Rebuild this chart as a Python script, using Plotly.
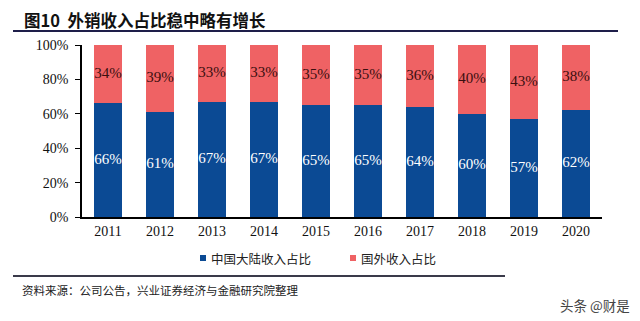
import plotly.graph_objects as go

years = ["2011", "2012", "2013", "2014", "2015", "2016", "2017", "2018", "2019", "2020"]
mainland = [66, 61, 67, 67, 65, 65, 64, 60, 57, 62]
overseas = [34, 39, 33, 33, 35, 35, 36, 40, 43, 38]
yticks = [0, 20, 40, 60, 80, 100]
ytick_labels = ["0%", "20%", "40%", "60%", "80%", "100%"]
series_names = ["中国大陆收入占比", "国外收入占比"]
colors = ["#0B4A94", "#EF6264"]

W, H = 640, 321
L, R, T, B = 82, 602, 45, 217
pw, ph = R - L, B - T

def px(x):
    return (x - L) / pw

def py(y):
    return (B - y) / ph

serif = "Liberation Serif, Times New Roman, serif"
cjk = "Noto Sans CJK SC"

fig = go.Figure()
fig.add_trace(go.Bar(
    x=years, y=mainland, name=series_names[0],
    marker=dict(color=colors[0], line=dict(width=0)), textposition="none",
))
fig.add_trace(go.Bar(
    x=years, y=overseas, name=series_names[1],
    marker=dict(color=colors[1], line=dict(width=0)), textposition="none",
))
# value labels centred in each segment
fig.add_trace(go.Scatter(
    x=years, y=[v / 2 for v in mainland], mode="text",
    text=[f"{v}%" for v in mainland], textposition="middle center",
    textfont=dict(family=serif, size=15, color="#ffffff"), hoverinfo="skip",
))
fig.add_trace(go.Scatter(
    x=years, y=[m + o / 2 for m, o in zip(mainland, overseas)], mode="text",
    text=[f"{v}%" for v in overseas], textposition="middle center",
    textfont=dict(family=serif, size=15, color="#3a0f0f"), hoverinfo="skip",
))

shapes = [
    dict(type="line", xref="paper", yref="paper", x0=px(13), x1=px(618), y0=py(31), y1=py(31),
         line=dict(color="#1e1e4a", width=2)),
    dict(type="line", xref="paper", yref="paper", x0=px(13), x1=px(505), y0=py(276), y1=py(276),
         line=dict(color="#3a3a4a", width=2)),
]
annotations = [
    dict(text="<b>图10  外销收入占比稳中略有增长</b>", xref="paper", yref="paper",
         x=px(22), y=py(20), xanchor="left", yanchor="middle", showarrow=False,
         font=dict(family=cjk, size=16.5, color="#111")),
    dict(text="资料来源：公司公告，兴业证券经济与金融研究院整理", xref="paper", yref="paper",
         x=px(20), y=py(290), xanchor="left", yanchor="middle", showarrow=False,
         font=dict(family=cjk, size=11.5, color="#222")),
    dict(text="头条 @财是", xref="paper", yref="paper",
         x=px(632), y=py(305), xanchor="right", yanchor="middle", showarrow=False,
         font=dict(family=cjk, size=13.5, color="#444")),
]
# manual legend
for sx, name, col in zip([200, 350], series_names, colors):
    shapes.append(dict(type="rect", xref="paper", yref="paper",
                       x0=px(sx), x1=px(sx + 6), y0=py(261), y1=py(255),
                       fillcolor=col, line=dict(width=0)))
    annotations.append(dict(text=name, xref="paper", yref="paper",
                            x=px(sx + 9), y=py(258), xanchor="left", yanchor="middle",
                            showarrow=False, font=dict(family=cjk, size=12.5, color="#222")))

fig.update_layout(
    barmode="stack", bargap=0.46,
    width=W, height=H,
    margin=dict(l=L, r=W - R, t=T, b=H - B),
    paper_bgcolor="white", plot_bgcolor="white",
    showlegend=False,
    xaxis=dict(showline=True, linecolor="#000", linewidth=1.5, ticks="",
               tickfont=dict(family=serif, size=14, color="#111"), showgrid=False,
               fixedrange=True),
    yaxis=dict(range=[0, 100], tickvals=yticks, ticktext=ytick_labels,
               showline=True, linecolor="#000", linewidth=1.5, ticks="outside",
               ticklen=5, tickcolor="#000", showgrid=False, zeroline=False,
               tickfont=dict(family=serif, size=14, color="#111"), ticklabelstandoff=4),
    shapes=shapes,
    annotations=annotations,
)

fig.write_html("out.html")
